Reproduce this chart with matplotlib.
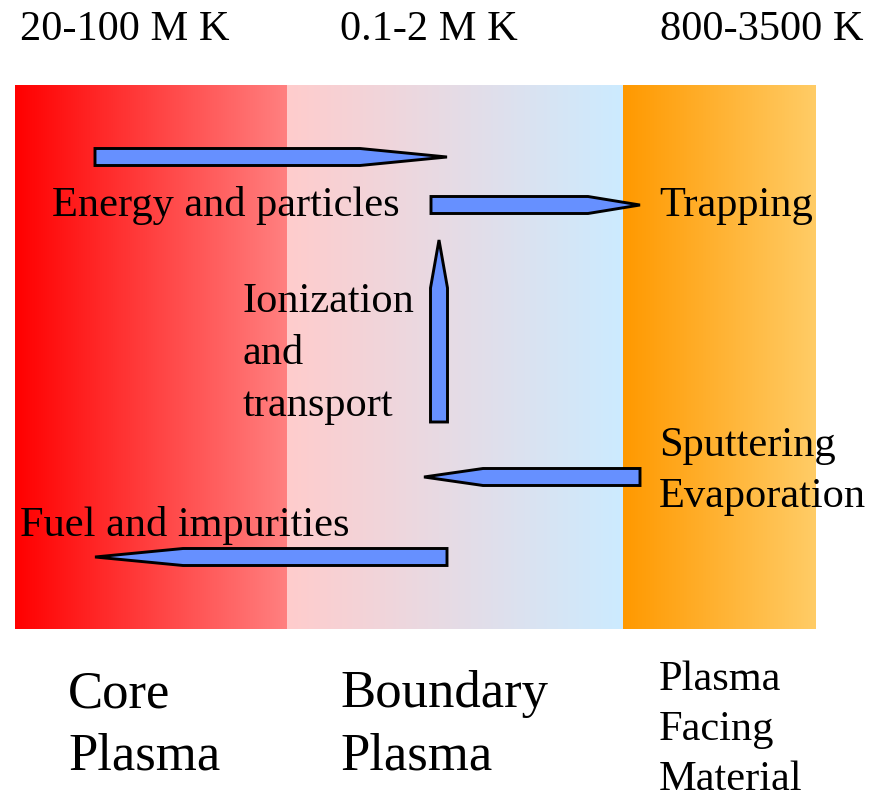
import numpy as np
import matplotlib.pyplot as plt
from matplotlib.patches import Polygon

W, H = 884, 801

# temperature zones: (x0, x1, left colour, right colour)
zone_x = [(15, 287), (287, 623), (623, 816)]
zone_left = [(255, 0, 0), (255, 204, 204), (255, 153, 0)]
zone_right = [(255, 128, 128), (204, 235, 255), (255, 204, 102)]
zone_top, zone_bottom = 85, 629

temp_labels = ["20-100 M K", "0.1-2 M K", "800-3500 K"]
temp_x = [20, 340, 660]

region_labels = ["Core\nPlasma", "Boundary\nPlasma", "Plasma\nFacing\nMaterial"]

# arrows: tail (x, y), tip (x, y), where the taper begins along the shaft
arrow_tail = [(95, 157), (431, 205), (439, 422), (640, 477), (447, 557)]
arrow_tip = [(447, 157), (640, 205), (439, 240), (424, 477), (95, 557)]
arrow_neck = [360, 588, 288, 483, 183]
shaft_w = 17

fig = plt.figure(figsize=(W / 100, H / 100), dpi=100)
ax = fig.add_axes([0, 0, 1, 1])
ax.axis('off')

for (x0, x1), cl, cr in zip(zone_x, zone_left, zone_right):
    t = np.linspace(0, 1, 256)
    grad = np.array(cl)[None, :] * (1 - t[:, None]) + np.array(cr)[None, :] * t[:, None]
    img = (grad / 255.0)[None, :, :]
    ax.imshow(img, extent=[x0, x1, zone_bottom, zone_top], aspect='auto',
              interpolation='bilinear', zorder=1)

ax.set_xlim(0, W)
ax.set_ylim(H, 0)


def arrow_poly(tail, tip, neck, w):
    (tx, ty), (px, py) = tail, tip
    h = w / 2
    if ty == py:  # horizontal
        return [(tx, ty - h), (neck, ty - h), (px, py), (neck, ty + h), (tx, ty + h)]
    return [(tx - h, ty), (tx - h, neck), (px, py), (tx + h, neck), (tx + h, ty)]


for tail, tip, neck in zip(arrow_tail, arrow_tip, arrow_neck):
    ax.add_patch(Polygon(arrow_poly(tail, tip, neck, shaft_w), closed=True,
                         facecolor='#6690ff', edgecolor='black', lw=2.1,
                         joinstyle='miter', zorder=3))

font = dict(family='Liberation Serif', color='black', zorder=4)

for lab, x in zip(temp_labels, temp_x):
    ax.text(x, 40, lab, fontsize=30.5, va='baseline', ha='left', **font)

ax.text(52, 216, "Energy and particles", fontsize=30.5, va='baseline', **font)
ax.text(659, 216, "Trapping", fontsize=30.5, va='baseline', **font)
for i, s in enumerate(["Ionization", "and", "transport"]):
    ax.text(243, 312 + 52 * i, s, fontsize=30.5, va='baseline', **font)
ax.text(659, 456, "Sputtering", fontsize=30.5, va='baseline', **font)
ax.text(659, 507, "Evaporation", fontsize=30.5, va='baseline', **font)
ax.text(20, 536, "Fuel and impurities", fontsize=30.5, va='baseline', **font)

for i, s in enumerate(region_labels[0].split("\n")):
    ax.text(68, 707 + 63 * i, s, fontsize=38, va='baseline', **font)
for i, s in enumerate(region_labels[1].split("\n")):
    ax.text(340, 707 + 63 * i, s, fontsize=38, va='baseline', **font)
for i, s in enumerate(region_labels[2].split("\n")):
    ax.text(659, 690 + 50 * i, s, fontsize=30.5, va='baseline', **font)

fig.savefig('out.png', dpi=100)
